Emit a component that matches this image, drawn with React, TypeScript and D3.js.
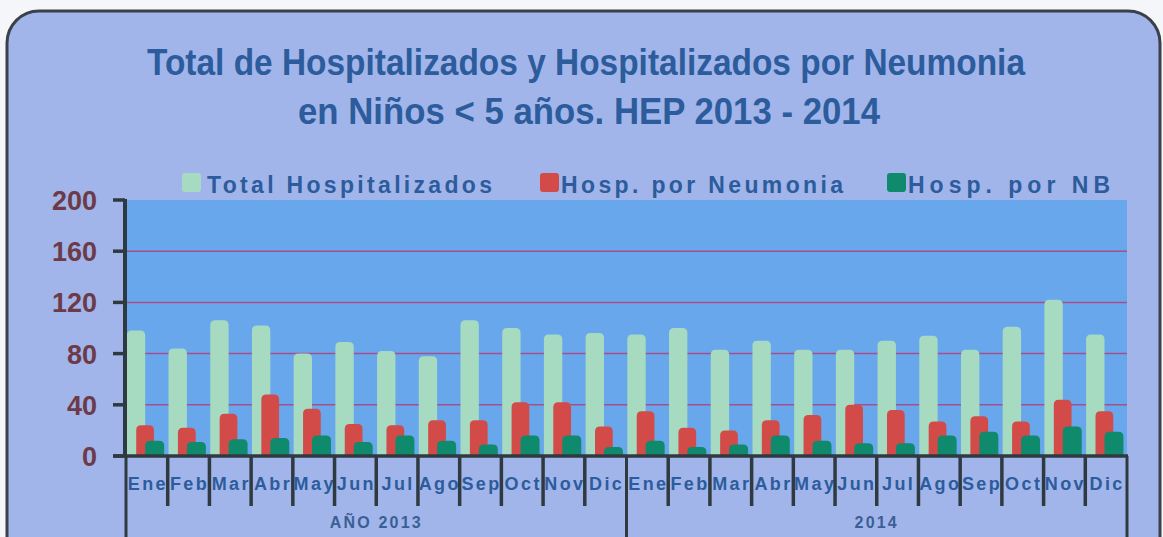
import React from "react";
import * as d3 from "d3";

const months = ["Ene","Feb","Mar","Abr","May","Jun","Jul","Ago","Sep","Oct","Nov","Dic"];
const years = ["AÑO 2013", "2014"];
const categories = [...months.map(m => "2013-" + m), ...months.map(m => "2014-" + m)];
const totalHosp = [98,84,106,102,80,89,82,78,106,100,95,96, 95,100,83,90,83,83,90,94,83,101,122,95];
const hospNeumonia = [24,22,33,48,37,25,24,28,28,42,42,23, 35,22,20,28,32,40,36,27,31,27,44,35];
const hospNB = [12,11,13,14,16,11,16,12,9,16,16,7, 12,7,9,16,12,10,10,16,19,16,23,19];
const yTicks = [0,40,80,120,160,200];
const seriesNames = ["Total Hospitalizados","Hosp. por Neumonia","Hosp. por NB"];

const W = 1163, H = 537;
const COL_BG = "#a1b5ea";
const COL_PLOT = "#69a7ec";
const COL_GREEN = "#a6dbc1";
const COL_RED = "#d24b48";
const COL_TEAL = "#0f8a6c";
const COL_GRID = "#a5508a";
const COL_TITLE = "#2c5c9c";
const COL_YLAB = "#6d3a48";
const COL_AXIS = "#2f3a40";

function roundTop(x: number, y: number, w: number, h: number, r: number) {
  const rr = Math.min(r, w / 2, h);
  return `M${x},${y + h}V${y + rr}Q${x},${y} ${x + rr},${y}H${x + w - rr}Q${x + w},${y} ${x + w},${y + rr}V${y + h}Z`;
}

export default function App() {
  const x = d3.scaleBand<string>().domain(categories).range([126, 1127]).paddingInner(0).paddingOuter(0);
  const y = d3.scaleLinear().domain([0, 200]).range([456, 200]);
  const bw = x.bandwidth();
  const series = [
    { vals: totalHosp, color: COL_GREEN, f0: 0.02, f1: 0.46 },
    { vals: hospNeumonia, color: COL_RED, f0: 0.245, f1: 0.67 },
    { vals: hospNB, color: COL_TEAL, f0: 0.46, f1: 0.915 },
  ];
  const font = "'Liberation Sans', Arial, Helvetica, sans-serif";
  const titleFont = "'Liberation Sans Narrow', 'Arial Narrow', 'Liberation Sans', Arial, sans-serif";
  const y0 = y(0);
  const yearBounds = [x(categories[0])!, x(categories[12])!, 1127];

  return (
    <div style={{ position: "fixed", left: 0, top: 0 }}>
      <svg width={W} height={H} style={{ display: "block", background: "#f5f6f9" }}>
        <rect x={7} y={11} width={1153} height={560} rx={32} ry={32} fill={COL_BG} stroke="#3b4148" strokeWidth={3} />
        {/* title */}
        <text x={586} y={75} textAnchor="middle" fill={COL_TITLE} fontFamily={titleFont} fontWeight="bold" fontSize={37}
          textLength={878} lengthAdjust="spacingAndGlyphs">Total de Hospitalizados y Hospitalizados por Neumonia</text>
        <text x={589} y={124} textAnchor="middle" fill={COL_TITLE} fontFamily={titleFont} fontWeight="bold" fontSize={37}
          textLength={582} lengthAdjust="spacingAndGlyphs">en Niños &lt; 5 años. HEP  2013 - 2014</text>
        {/* legend */}
        {[
          { sx: 182, tx: 207, tl: 285, c: COL_GREEN },
          { sx: 540, tx: 561, tl: 282, c: COL_RED },
          { sx: 887, tx: 908, tl: 202, c: COL_TEAL },
        ].map((l, i) => (
          <g key={i}>
            <rect x={l.sx} y={173} width={19} height={19} rx={3} fill={l.c} />
            <text x={l.tx} y={193} fill={COL_TITLE} fontFamily={font} fontWeight="bold" fontSize={23}
              textLength={l.tl} lengthAdjust="spacing">{seriesNames[i]}</text>
          </g>
        ))}
        {/* plot area */}
        <rect x={127} y={200} width={1000} height={y0 - 200} fill={COL_PLOT} />
        {yTicks.filter(t => t > 0 && t < 200).map(t => (
          <line key={t} x1={127} x2={1127} y1={y(t)} y2={y(t)} stroke={COL_GRID} strokeWidth={1.5} />
        ))}
        {/* bars */}
        {series.map((s, si) => (
          <g key={si}>
            {categories.map((c, i) => {
              const bx = x(c)! + s.f0 * bw;
              const w = (s.f1 - s.f0) * bw;
              const top = y(s.vals[i]);
              return <path key={c} d={roundTop(bx, top, w, y0 - top, 5)} fill={s.color} />;
            })}
          </g>
        ))}
        {/* y axis */}
        <line x1={125} x2={125} y1={199} y2={y0} stroke={COL_AXIS} strokeWidth={4} />
        {yTicks.map(t => (
          <g key={t}>
            <line x1={113} x2={125} y1={y(t)} y2={y(t)} stroke={COL_AXIS} strokeWidth={3.5} />
            <text x={97} y={y(t) + 10} textAnchor="end" fill={COL_YLAB} fontFamily={font} fontWeight="bold" fontSize={27}>{t}</text>
          </g>
        ))}
        {/* x axis */}
        <line x1={113} x2={1128} y1={y0} y2={y0} stroke={COL_AXIS} strokeWidth={3.5} />
        {categories.map((c, i) => {
          const bx = x(c)!;
          const isYear = i % 12 === 0;
          return (
            <g key={c}>
              <line x1={bx} x2={bx} y1={y0} y2={isYear ? H : 506} stroke={COL_AXIS} strokeWidth={isYear ? 3 : 3.5} />
              <text x={bx + bw / 2 + 1} y={490} textAnchor="middle" fill={COL_TITLE} fontFamily={font} fontWeight="bold"
                fontSize={18} letterSpacing={2.4}>{months[i % 12]}</text>
            </g>
          );
        })}
        <line x1={1127} x2={1127} y1={y0} y2={H} stroke={COL_AXIS} strokeWidth={3} />
        {years.map((yl, i) => (
          <text key={yl} x={(yearBounds[i] + yearBounds[i + 1]) / 2} y={528} textAnchor="middle" fill="#3a5f96"
            fontFamily={font} fontWeight="bold" fontSize={16} letterSpacing={2.2}>{yl}</text>
        ))}
      </svg>
    </div>
  );
}
